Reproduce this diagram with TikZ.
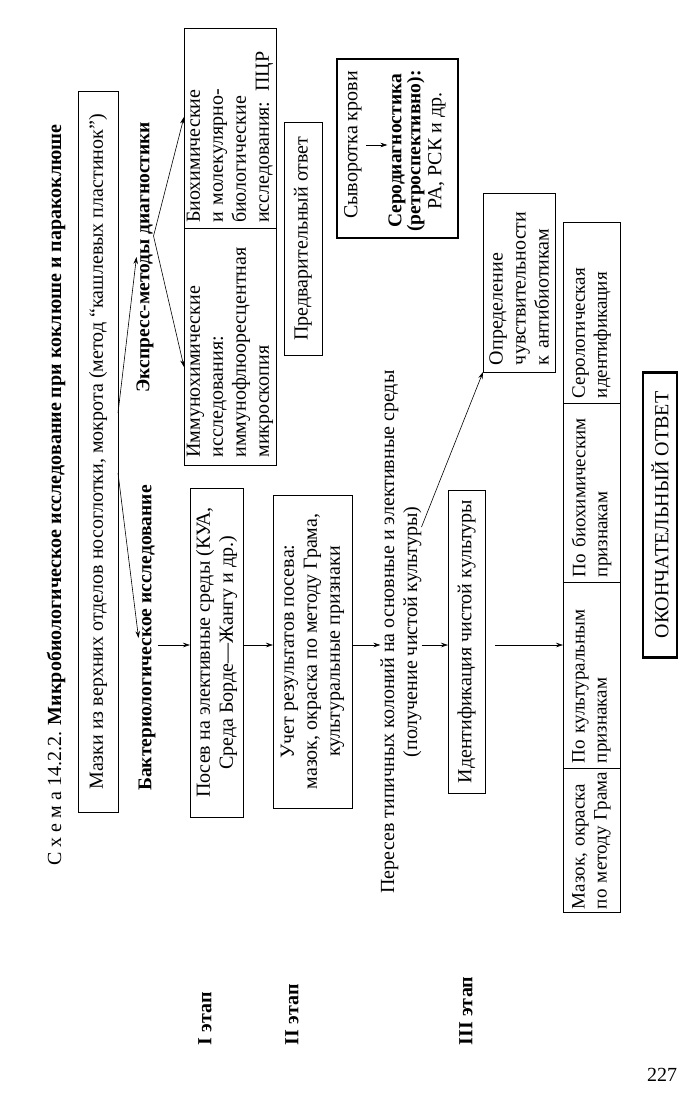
\documentclass[tikz,border=0pt]{standalone}
\usepackage{fontspec}
\setmainfont{Liberation Serif}
\usetikzlibrary{arrows.meta,calc}
\begin{document}
\begin{tikzpicture}[x=1pt,y=-1pt,
  every node/.style={font=\fontsize{20}{23}\selectfont, inner sep=0pt, outer sep=0pt},
  box/.style={draw, line width=0.8pt, rotate=90},
  tbox/.style={draw, line width=2.2pt, rotate=90},
  lbl/.style={rotate=90, font=\fontsize{19.5}{23}\selectfont\bfseries},
  stg/.style={rotate=90, anchor=west, font=\fontsize{20}{23}\selectfont\bfseries},
  cell/.style={box, minimum height=57pt, align=left, font=\fontsize{19}{22}\selectfont},
  txt/.style={rotate=90},
  arr/.style={-{Stealth[length=7pt,width=4.5pt]}, line width=0.6pt},
]
\useasboundingbox (0,0) rectangle (686,1107);
\fill[white] (0,0) rectangle (686,1107);

% helper coordinates (y levels)
\coordinate (yA1) at (0,473);
\coordinate (yA2) at (0,413);
\coordinate (yF) at (0,236);
\coordinate (y117) at (0,117);
\coordinate (y367) at (0,367);
\coordinate (ym) at (0,645);
\coordinate (y527) at (0,527);

% title
\node[txt] (title) at (56,495) {С х е м а 14.2.2. \textbf{Микробиологическое исследование при коклюше и паракоклюше}};

% source box
\node[box, minimum width=721pt, minimum height=40pt] (A) at (98,452) {Мазки из верхних отделов носоглотки, мокрота (метод “кашлевых пластинок”)};

% branch labels
\node[lbl] (bakt) at (147,638) {Бактериологическое исследование};
\node[lbl] (expr) at (145,257) {Экспресс-методы диагностики};

% express boxes
\node[box, minimum width=200pt, minimum height=92pt, align=left, text width=190pt] (bio) at (230,128) {Биохимические\\и молекулярно-\\биологические\\исследования: ПЦР};
\node[box, minimum width=237pt, minimum height=92pt, align=left, text width=222pt] (imm) at (230,346.5) {Иммунохимические\\исследования:\\иммунофлюоресцентная\\микроскопия};
\node[box, minimum width=233pt, minimum height=38pt] (pre) at (303,238.5) {Предварительный ответ};

% serum box
\node[tbox, minimum width=179pt, minimum height=121pt] (serbox) at (397.5,148.5) {};
\node[txt] (ser) at (353,145) {Сыворотка крови};
\node[txt, align=center, font=\fontsize{19.5}{19}\selectfont] (sero) at (417,151) {\textbf{Серодиагностика}\\\textbf{(ретроспективно):}\\[2pt]{\fontsize{20}{23}\selectfont РА, РСК и др.}};

% stages I-III
\node[box, minimum width=329pt, minimum height=53pt, align=center] (b1) at (216.5,652.5) {Посев на элективные среды (КУА,\\Среда Борде—Жангу и др.)};
\node[box, minimum width=313pt, minimum height=79pt, align=center] (b2) at (312.5,651.5) {Учет результатов посева:\\мазок, окраска по методу Грама,\\культуральные признаки};
\node[txt, align=center] (per) at (401,632) {Пересев типичных колоний на основные и элективные среды\\(получение чистой культуры)};
\node[box, minimum width=303pt, minimum height=37pt] (id) at (466.5,641.5) {Идентификация чистой культуры};
\node[box, minimum width=179pt, minimum height=72pt, align=left, text width=165pt] (opr) at (519,282.5) {Определение\\чувствительности\\к антибиотикам};

% bottom row
\node[cell, minimum width=144pt, text width=138pt] (c1) at (591.5,840) {Мазок, окраска\\по методу Грама};
\node[cell, minimum width=186pt, text width=176pt] (c2) at (591.5,675) {По культуральным\\признакам};
\node[cell, minimum width=179pt, text width=169pt] (c3) at (591.5,492.5) {По биохимическим\\признакам};
\node[cell, minimum width=181pt, text width=171pt] (c4) at (591.5,312.5) {Серологическая\\идентификация};

\node[tbox, minimum width=285pt, minimum height=34pt] (fin) at (660,515) {ОКОНЧАТЕЛЬНЫЙ ОТВЕТ};

% stage labels
\node[stg] (s1) at (205,1045) {I этап};
\node[stg] (s2) at (292,1045) {II этап};
\node[stg] (s3) at (466,1045) {III этап};

% page number
\node (pg) at (662,1075) {227};

% connectors
\draw[arr] (A.south |- yA1) -- (bakt.north);
\draw[arr] (A.south |- yA2) -- (expr.north);
\draw[arr] (expr.south |- yF) -- (bio.north |- y117);
\draw[arr] (expr.south |- yF) -- (imm.north |- y367);
\draw[arr, shorten <=4pt, shorten >=1pt] (ser.south) -- (ser.south -| sero.north);
\draw[arr, shorten <=3pt] (bakt.south |- ym) -- (b1.north |- ym);
\draw[arr] (b1.south |- ym) -- (b2.north |- ym);
\draw[arr] (b2.south |- ym) -- (per.north |- ym);
\draw[arr] (per.south |- ym) -- (id.north |- ym);
\draw[arr, shorten <=10pt] (id.south |- ym) -- (c2.north |- ym);
\draw[arr] (per.south |- y527) -- (opr.north west);
\end{tikzpicture}
\end{document}
